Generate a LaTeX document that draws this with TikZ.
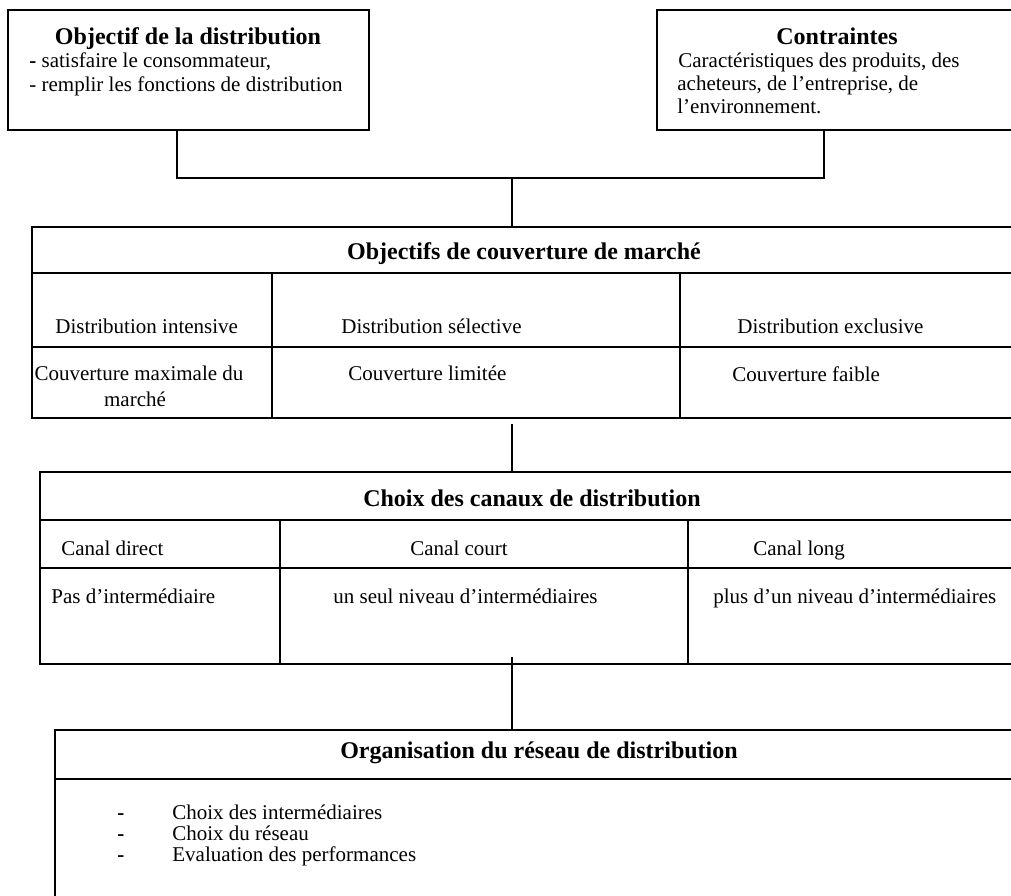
\documentclass[tikz,border=0pt]{standalone}
\usepackage{fontspec}
\setmainfont{Liberation Serif}

\begin{document}
\begin{tikzpicture}[x=0.5pt,y=-0.5pt,
    frameBox/.style={draw=black,line width=0.7pt,inner sep=0pt,outer sep=0pt,anchor=north west},
    headText/.style={font=\fontsize{12}{14}\selectfont\bfseries,inner sep=0pt,anchor=base},
    cellText/.style={font=\fontsize{10.5}{12}\selectfont,inner sep=0pt,anchor=base west},
    midText/.style={font=\fontsize{10.5}{12}\selectfont,inner sep=0pt,anchor=base},
    linkLine/.style={draw=black,line width=0.7pt},
]
\useasboundingbox (0,0) rectangle (1011,895);
\clip (0,0) rectangle (1011,895);

% objectif et contraintes
\node[frameBox,minimum width=180.5pt,minimum height=60pt] (objDist) at (8,10) {};
\node[headText] (objDistT) at (188,44) {Objectif de la distribution};
\node[cellText] (objDistA) at (29,67) {\textbf{-} satisfaire le consommateur,};
\node[cellText] (objDistB) at (29,91) {- remplir les fonctions de distribution};

\node[frameBox,minimum width=180pt,minimum height=60pt] (contr) at (657,10) {};
\node[headText] (contrT) at (837,44) {Contraintes};
\node[cellText] (contrA) at (678,67) {Caractéristiques des produits, des};
\node[cellText] (contrB) at (677,90) {acheteurs, de l'entreprise, de};
\node[cellText] (contrC) at (677,113) {l'environnement.};

\coordinate (jA) at (177,178);
\coordinate (jB) at (824,178);
\coordinate (jM) at (512,178);

% couverture de marche
\node[frameBox,minimum width=492.5pt,minimum height=23pt] (couvHead) at (32,227) {};
\node[headText] (couvT) at (524,259) {Objectifs de couverture de marché};
\node[frameBox,minimum width=120pt,minimum height=37pt] (couvA) at (32,273) {};
\node[frameBox,minimum width=204pt,minimum height=37pt] (couvB) at (272,273) {};
\node[frameBox,minimum width=168.5pt,minimum height=37pt] (couvC) at (680,273) {};
\node[frameBox,minimum width=120pt,minimum height=35.5pt] (couvD) at (32,347) {};
\node[frameBox,minimum width=204pt,minimum height=35.5pt] (couvE) at (272,347) {};
\node[frameBox,minimum width=168.5pt,minimum height=35.5pt] (couvF) at (680,347) {};
\node[cellText] (couvAT) at (55,333) {Distribution intensive};
\node[cellText] (couvBT) at (341,333) {Distribution sélective};
\node[cellText] (couvCT) at (737,333) {Distribution exclusive};
\node[midText] (couvDT) at (139,380) {Couverture maximale du};
\node[midText] (couvDU) at (135,406) {marché};
\node[cellText] (couvET) at (348,380) {Couverture limitée};
\node[cellText] (couvFT) at (732,381) {Couverture faible};

\coordinate (jC) at (512,424);

% canaux
\node[frameBox,minimum width=491.5pt,minimum height=24pt] (canHead) at (40,472) {};
\node[headText] (canT) at (532,506) {Choix des canaux de distribution};
\node[frameBox,minimum width=120pt,minimum height=24pt] (canA) at (40,520) {};
\node[frameBox,minimum width=204pt,minimum height=24pt] (canB) at (280,520) {};
\node[frameBox,minimum width=167.5pt,minimum height=24pt] (canC) at (688,520) {};
\node[frameBox,minimum width=120pt,minimum height=48pt] (canD) at (40,568) {};
\node[frameBox,minimum width=204pt,minimum height=48pt] (canE) at (280,568) {};
\node[frameBox,minimum width=167.5pt,minimum height=48pt] (canF) at (688,568) {};
\node[cellText] (canAT) at (61,555) {Canal direct};
\node[cellText] (canBT) at (410,555) {Canal court};
\node[cellText] (canCT) at (753,555) {Canal long};
\node[cellText] (canDT) at (51,603) {Pas d'intermédiaire};
\node[cellText] (canET) at (333,603) {un seul niveau d'intermédiaires};
\node[cellText] (canFT) at (713,603) {plus d'un niveau d'intermédiaires};

\coordinate (jD) at (512,657);

% organisation
\node[frameBox,minimum width=484pt,minimum height=24.5pt] (orgHead) at (55,730) {};
\node[frameBox,minimum width=484pt,minimum height=100pt] (orgBody) at (55,779) {};
\node[headText] (orgT) at (539,758) {Organisation du réseau de distribution};
\node[cellText] (orgA) at (117,819) {\makebox[27.5pt][l]{\textbf{-}}Choix des intermédiaires};
\node[cellText] (orgB) at (117,840) {\makebox[27.5pt][l]{\textbf{-}}Choix du réseau};
\node[cellText] (orgC) at (117,861) {\makebox[27.5pt][l]{\textbf{-}}Evaluation des performances};

% liaisons
\draw[linkLine] (objDist.south -| jA) -- (jA) -- (jB) -- (contr.south -| jB);
\draw[linkLine] (jM) -- (jM |- couvHead.north);
\draw[linkLine] (jC) -- (jC |- canHead.north);
\draw[linkLine] (jD) -- (jD |- orgHead.north);
\end{tikzpicture}
\end{document}
